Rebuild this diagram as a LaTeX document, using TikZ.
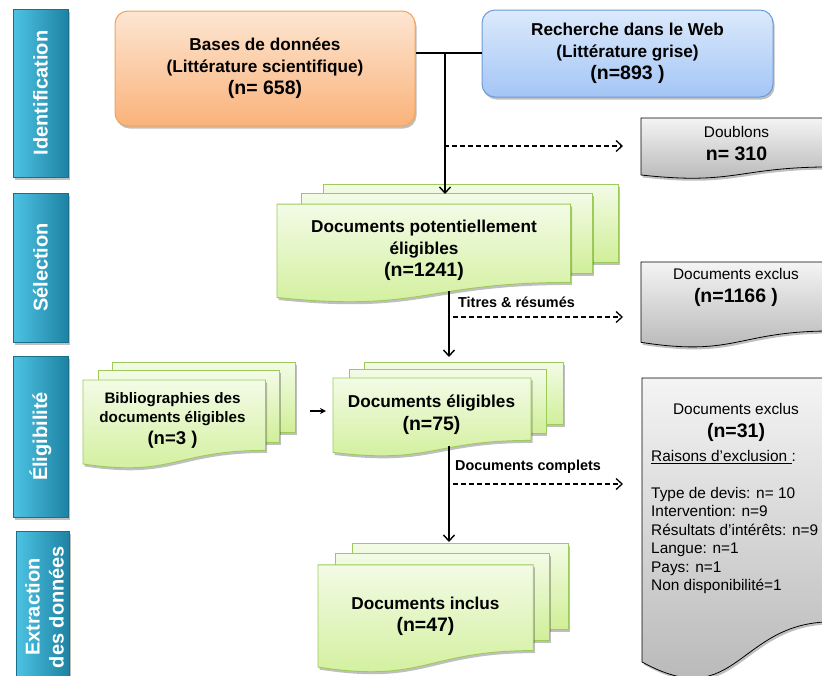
\documentclass[tikz,border=0pt]{standalone}
\usepackage{fontspec}
\setmainfont{Liberation Sans}
\usetikzlibrary{shadows,arrows.meta}
\definecolor{barL}{HTML}{4DC3E3}
\definecolor{barR}{HTML}{1E82A3}
\definecolor{barD}{HTML}{1A6F8A}
\definecolor{orT}{HTML}{FDE6D2}
\definecolor{orB}{HTML}{FAB27A}
\definecolor{orD}{HTML}{F1A35C}
\definecolor{blT}{HTML}{DCEAFC}
\definecolor{blB}{HTML}{A3C5F5}
\definecolor{blD}{HTML}{6B9CD9}
\definecolor{grT}{HTML}{F3FBE6}
\definecolor{grB}{HTML}{D0EF98}
\definecolor{grD}{HTML}{9CCB5C}
\definecolor{gyT}{HTML}{F4F4F4}
\definecolor{gyB}{HTML}{B3B3B3}
\newcommand{\bnum}[1]{{\fontsize{19.5}{22}\selectfont #1}}
\tikzset{
  shad/.style={drop shadow={shadow xshift=1.5pt,shadow yshift=-2.5pt,opacity=0.25,fill=black}},
  sidebar/.style={rectangle,left color=barL,right color=barR,draw=barD,line width=0.6pt,shad,inner sep=0pt},
  sidetext/.style={rotate=90,text=white,font=\bfseries\fontsize{20}{24}\selectfont,align=center},
  srcbox/.style={rectangle,rounded corners=13pt,line width=1pt,shad,align=center,
    font=\bfseries\fontsize{17.2}{21.5}\selectfont},
  greencard/.style={top color=grT,bottom color=grB,draw=grD,line width=0.9pt,shad},
  greycard/.style={top color=gyT,bottom color=gyB,draw=black,line width=0.8pt,shad},
  maintext/.style={align=center,font=\bfseries\fontsize{17.2}{21.5}\selectfont},
  bibtext/.style={align=center,font=\bfseries\fontsize{15.2}{19.5}\selectfont},
  greytext/.style={align=center,font=\fontsize{15.4}{20}\selectfont},
  lbl/.style={anchor=west,font=\bfseries\fontsize{14.4}{17}\selectfont,inner sep=0pt},
  solidarrow/.style={line width=1.4pt,-{Straight Barb[length=6pt,width=11pt]}},
  dasharrow/.style={line width=1.3pt,dash pattern=on 5pt off 3pt,-{Straight Barb[length=6pt,width=11pt]}},
  plainline/.style={line width=1.4pt},
  smallarrow/.style={line width=1.2pt,-{Stealth[length=6pt,width=6pt]}}
}
\newcommand{\mdoc}[4]{%
  \begin{scope}[shift={(#1,#2)},x=#3pt,y=-#4pt]
    \path[greencard] (0.1376,0) rectangle (1,0.667);
    \path[greencard] (0.0709,0.084) rectangle (0.926,0.757);
    \path[greencard] (0,0.170) -- (0.861,0.170) -- (0.861,0.834)
      .. controls (0.430,0.834) and (0.430,1.090) .. (0,0.962) -- cycle;
  \end{scope}}
\newcommand{\gdoc}[4]{%
  \begin{scope}[shift={(#1,#2)},x=#3pt,y=-#4pt]
    \path[greycard] (0,0) -- (1,0) -- (1,0.802)
      .. controls (0.5,0.802) and (0.5,1.107) .. (0,0.934) -- cycle;
  \end{scope}}
\begin{document}
\begin{tikzpicture}[x=1pt,y=-1pt]
\useasboundingbox (0,0) rectangle (822,675);
\clip (0,0) rectangle (822,675);

% side bars
\node[sidebar,minimum width=55pt,minimum height=168pt] (b1) at (40.5,93) {};
\node[sidetext] (t1) at (b1) {Identification};
\node[sidebar,minimum width=55pt,minimum height=149pt] (b2) at (40.5,267.5) {};
\node[sidetext] (t2) at (b2) {Sélection};
\node[sidebar,minimum width=55pt,minimum height=161pt] (b3) at (40.5,436.5) {};
\node[sidetext] (t3) at (b3) {Éligibilité};
\node[sidebar,minimum width=53pt,minimum height=159pt] (b4) at (42.5,610.5) {};
\node[sidetext] (t4) at (44.5,607) {Extraction\\des données};

% sources
\node[srcbox,top color=orT,bottom color=orB,draw=orD,minimum width=300pt,minimum height=115pt] (orange) at (265,68.5)
  {Bases de données\\(Littérature scientifique)\\[1pt]\bnum{(n= 658)}};
\node[srcbox,top color=blT,bottom color=blB,draw=blD,minimum width=291pt,minimum height=87pt] (blue) at (627.5,53.5)
  {Recherche dans le Web\\(Littérature grise)\\[1pt]\bnum{(n=893 )}};

% grey exclusion boxes
\gdoc{641}{118}{191}{61}
\gdoc{641}{262}{191}{86}
\gdoc{642}{378}{190}{304}
\node[greytext] (doub) at (736.5,144) {Doublons\\[3pt]\textbf{\bnum{n= 310}}};
\node[greytext] (ex1) at (736,287.5) {Documents exclus\\[3pt]\textbf{\bnum{(n=1166 )}}};
\node[greytext] (ex2) at (736,422) {Documents exclus\\[3pt]\textbf{\bnum{(n=31)}}};
\node[anchor=north west,align=left,inner sep=0pt,font=\fontsize{15.4}{18.5}\selectfont] (reasons) at (651,450)
  {\underline{Raisons d’exclusion }:\\[18.5pt]Type de devis: n= 10\\Intervention: n=9\\Résultats d’intérêts: n=9\\Langue: n=1\\Pays: n=1\\Non disponibilité=1};

% green stacks
\mdoc{277}{184}{341}{118}
\mdoc{333}{362}{230}{94}
\mdoc{83}{362}{212}{106}
\mdoc{318}{543}{250}{129}
\node[maintext] (pot) at (424,250.5) {Documents potentiellement\\éligibles\\[1pt]\bnum{(n=1241)}};
\node[maintext] (elig) at (431.5,414.5) {Documents éligibles\\[1pt]\bnum{(n=75)}};
\node[bibtext] (bib) at (172.5,420) {Bibliographies des\\documents éligibles\\[2pt]{\fontsize{18.5}{20}\selectfont (n=3 )}};
\node[maintext] (incl) at (425.5,616.5) {Documents inclus\\[1pt]\bnum{(n=47)}};

% connectors
\coordinate (J) at (445,53);
\coordinate (s1top) at (445,194);
\coordinate (s1bot) at (449,291);
\coordinate (s2top) at (449,357);
\coordinate (s2bot) at (449,446);
\coordinate (s3top) at (449,542);
\coordinate (d1) at (623,146);
\coordinate (d2) at (623,317);
\coordinate (d3) at (623,484);
\coordinate (bibr) at (310,411);
\coordinate (eligl) at (326,411);

\draw[plainline] (orange.east |- J) -- (blue.west |- J);
\draw[solidarrow] (J) -- (s1top);
\draw[dasharrow] (444,146) -- (d1);
\draw[solidarrow] (s1bot) -- (s2top);
\draw[dasharrow] (453,317) -- (d2);
\node[lbl] (l1) at (458,302) {Titres \& résumés};
\draw[solidarrow] (s2bot) -- (s3top);
\draw[dasharrow] (453,484) -- (d3);
\node[lbl] (l2) at (455,467) {Documents complets};
\draw[smallarrow] (bibr) -- (eligl);
\end{tikzpicture}
\end{document}
